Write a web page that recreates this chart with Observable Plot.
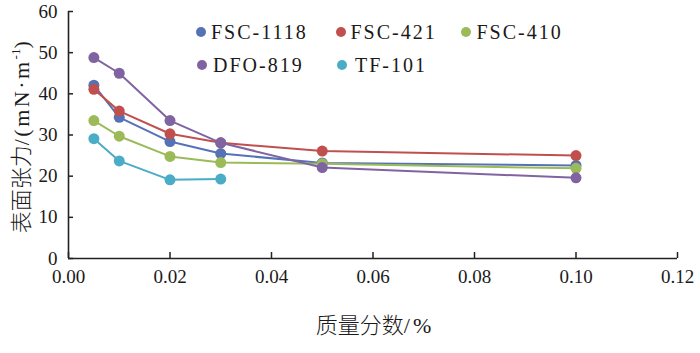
<!DOCTYPE html>
<html><head><meta charset="utf-8">
<script src="https://cdn.jsdelivr.net/npm/d3@7"></script>
<script src="https://cdn.jsdelivr.net/npm/@observablehq/plot@0.6"></script>
</head><body style="margin:0;background:#fff">
<div id="wrap" style="position:relative;width:700px;height:353px;color:#1a1a1a">
<div style="position:absolute;left:-104px;top:124px;width:240px;height:24px;line-height:24px;text-align:center;font-size:22px;transform:rotate(-90deg);white-space:nowrap;letter-spacing:2.5px;font-family:'Liberation Serif'"><span style="font-family:'Noto Sans CJK SC';font-weight:300;letter-spacing:0">表面张力</span>/(mN·m<span style="font-size:13px;vertical-align:9px;letter-spacing:0">-1</span>)</div>
<div style="position:absolute;left:275px;width:200px;top:310px;line-height:26px;text-align:center;font-size:22px;white-space:nowrap;letter-spacing:3px;font-family:'Liberation Serif'"><span style="font-family:'Noto Sans CJK SC';font-weight:300;letter-spacing:0">质量分数</span>/%</div>
</div>
<script>
// ---- data ----
const massFraction = [0.005, 0.01, 0.02, 0.03, 0.05, 0.10];
const seriesNames = ["FSC-1118", "FSC-421", "FSC-410", "DFO-819", "TF-101"];
const seriesColors = ["#5672b6", "#c0504d", "#9bbb59", "#8064a2", "#4bacc6"];
const fsc1118 = [42.1, 34.3, 28.4, 25.5, 23.2, 22.6];
const fsc421  = [41.1, 35.8, 30.3, 28.1, 26.1, 25.0];
const fsc410  = [33.5, 29.7, 24.8, 23.3, 23.0, 21.9];
const dfo819  = [48.8, 45.0, 33.5, 28.1, 22.1, 19.6];
const tf101   = [29.1, 23.7, 19.1, 19.3];
const xTicks = [0, 0.02, 0.04, 0.06, 0.08, 0.10, 0.12];
const yTicks = [0, 10, 20, 30, 40, 50, 60];

const seriesValues = [fsc1118, fsc421, fsc410, dfo819, tf101];
const rows = [];
seriesValues.forEach((vals, i) => vals.forEach((v, j) => rows.push({series: seriesNames[i], x: massFraction[j], y: v})));

const serif = "Liberation Serif";
const plot = Plot.plot({
  width: 700, height: 353,
  marginLeft: 68, marginRight: 23, marginTop: 11, marginBottom: 95,
  style: {background: "white", color: "#1a1a1a", fontSize: "19px", fontFamily: serif},
  x: {domain: [0, 0.12]},
  y: {domain: [0, 60]},
  color: {domain: seriesNames, range: seriesColors},
  marks: [
    Plot.axisX(xTicks, {tickSize: -6, tickPadding: 17, tickFormat: d3.format(".2f"), label: null, stroke: "#222", strokeWidth: 1.5, fontSize: 19, fontFamily: serif, letterSpacing: 1.5}),
    Plot.axisY(yTicks, {tickSize: -5, tickPadding: 16, tickFormat: d3.format("d"), label: null, stroke: "#222", strokeWidth: 1.5, fontSize: 19, fontFamily: serif, letterSpacing: 1.5}),
    Plot.ruleX([0], {stroke: "#222", strokeWidth: 1.6}),
    Plot.ruleY([0], {stroke: "#222", strokeWidth: 1.6}),
    Plot.line(rows, {x: "x", y: "y", z: "series", stroke: "series", strokeWidth: 2}),
    Plot.dot(rows, {x: "x", y: "y", fill: "series", r: 5.5})
  ]
});
d3.select(plot).selectAll("text").style("font-family", serif);
const wrap = document.getElementById("wrap");
wrap.prepend(plot);

// legend (HTML)
const legendPos = [
  {dx: 200.7, tx: 211, cy: 31.7},
  {dx: 340.5, tx: 350.5, cy: 31.7},
  {dx: 465.7, tx: 476.5, cy: 31.7},
  {dx: 202, tx: 213, cy: 65},
  {dx: 342, tx: 355, cy: 65}
];
seriesNames.forEach((name, i) => {
  const p = legendPos[i];
  const d = document.createElement("div");
  d.style.position = "absolute";
  d.style.width = "10px"; d.style.height = "10px"; d.style.borderRadius = "50%";
  d.style.left = (p.dx - 5) + "px"; d.style.top = (p.cy - 5) + "px";
  d.style.background = seriesColors[i];
  wrap.appendChild(d);
  const t = document.createElement("div");
  t.style.position = "absolute";
  t.style.fontFamily = serif;
  t.style.fontSize = "20px";
  t.style.letterSpacing = "2px";
  t.style.lineHeight = "20px";
  t.style.whiteSpace = "nowrap";
  t.style.left = p.tx + "px"; t.style.top = (p.cy - 10) + "px";
  t.textContent = name;
  wrap.appendChild(t);
});
</script>
</body></html>
